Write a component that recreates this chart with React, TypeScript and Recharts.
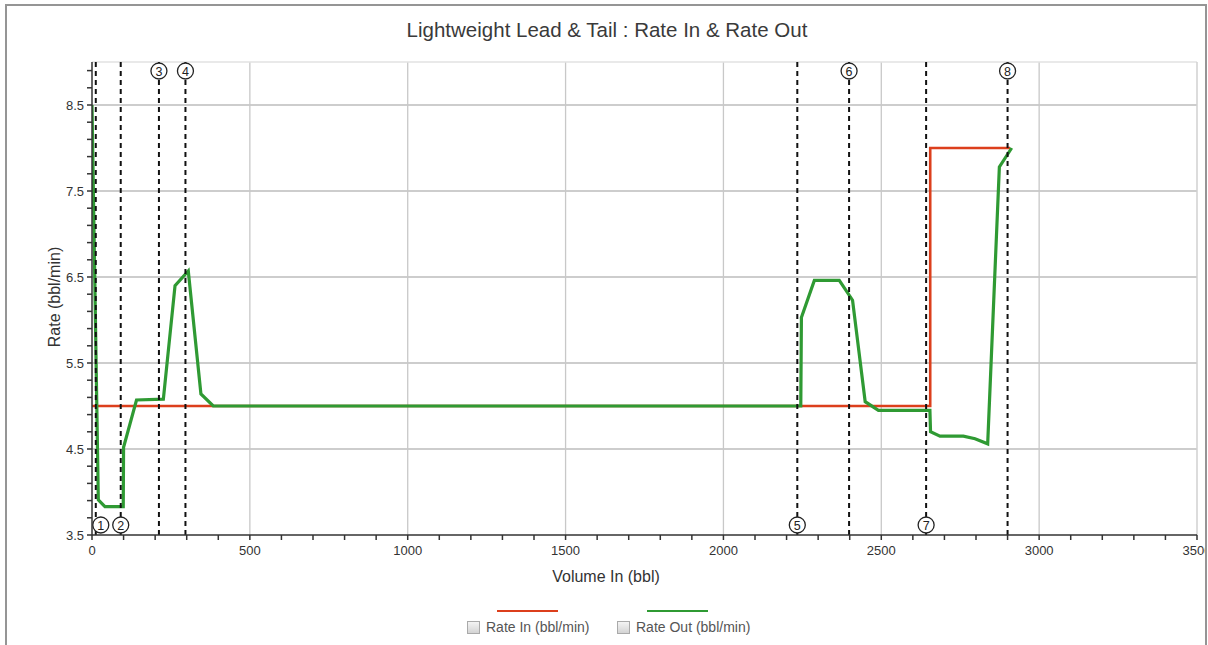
import React from 'react'
import { LineChart, Line, XAxis, YAxis, ReferenceLine } from 'recharts'

// Rate In (red) — step profile
const RATE_IN_VOL = [0, 2655, 2655, 2908]
const RATE_IN_VAL = [5.0, 5.0, 8.0, 8.0]

// Rate Out (green)
const RATE_OUT_VOL = [0, 20, 41, 99, 100, 141, 226, 263, 305, 345, 384, 2245, 2247, 2288, 2367, 2409, 2449, 2491, 2654, 2656, 2686, 2760, 2797, 2837, 2874, 2913]
const RATE_OUT_VAL = [8.5, 3.91, 3.83, 3.83, 4.52, 5.07, 5.08, 6.4, 6.57, 5.14, 5.0, 5.0, 6.03, 6.46, 6.46, 6.23, 5.05, 4.95, 4.95, 4.7, 4.65, 4.65, 4.62, 4.56, 7.78, 8.0]

// numbered event markers
const MARKER_IDS = ['1', '2', '3', '4', '5', '6', '7', '8']
const MARKER_VOL = [12, 91, 212, 296, 2234, 2398, 2642, 2900]
const MARKER_SIDE = ['bottom', 'bottom', 'top', 'top', 'bottom', 'top', 'bottom', 'top']

const X_MAJOR = [0, 500, 1000, 1500, 2000, 2500, 3000, 3500]
const Y_MAJOR = [3.5, 4.5, 5.5, 6.5, 7.5, 8.5]
const X_MINOR_STEP = 100
const Y_MINOR_STEP = 0.2

const RED = '#dc3f1c'
const GREEN = '#2f9a33'
const FONT = '"Liberation Sans", Arial, sans-serif'

const rateIn = RATE_IN_VOL.map((v, i) => ({ vol: v, rate: RATE_IN_VAL[i] }))
const rateOut = RATE_OUT_VOL.map((v, i) => ({ vol: v, rate: RATE_OUT_VAL[i] }))

const xTicks: number[] = []
for (let v = 0; v <= 3500; v += X_MINOR_STEP) xTicks.push(v)
const yTicks: number[] = []
for (let k = 0; k <= 27; k++) yTicks.push(Math.round((3.5 + k * Y_MINOR_STEP) * 10) / 10)

function XTick(p: any) {
  const v = p.payload.value
  if (!X_MAJOR.includes(v)) return <g />
  return (
    <text x={p.x} y={p.y} dy="0.71em" textAnchor="middle" fontSize={13} fill="#333" fontFamily={FONT}>
      {v}
    </text>
  )
}

function YTick(p: any) {
  const v = p.payload.value
  if (!Y_MAJOR.includes(v)) return <g />
  return (
    <text x={p.x} y={p.y} dy={4.5} textAnchor="end" fontSize={13} fill="#333" fontFamily={FONT}>
      {v.toFixed(1)}
    </text>
  )
}

function markerLabel(id: string, side: string) {
  return (props: any) => {
    const vb = props.viewBox
    const cx = vb.x + (id === '1' ? 5 : 0)
    const cy = side === 'top' ? vb.y + 9 : vb.y + vb.height - 10
    return (
      <g>
        <circle cx={cx} cy={cy} r={8} fill="#fff" stroke="#222" strokeWidth={1.3} />
        <text x={cx} y={cy} dy={4.5} textAnchor="middle" fontSize={12.5} fill="#222" fontFamily={FONT}>
          {id}
        </text>
      </g>
    )
  }
}

function LegendItem({ left, color, label }: { left: number; color: string; label: string }) {
  return (
    <>
      <div style={{ position: 'absolute', left: left + 30, top: 610, width: 61, height: 2, background: color }} />
      <div
        style={{
          position: 'absolute', left, top: 621, width: 13, height: 13, boxSizing: 'border-box',
          border: '1px solid #aaa', background: 'linear-gradient(#f4f4f4, #d4d4d4)',
        }}
      />
      <div style={{ position: 'absolute', left: left + 19, top: 619, fontSize: 14, color: '#555', fontFamily: FONT, whiteSpace: 'nowrap' }}>
        {label}
      </div>
    </>
  )
}

export default function App() {
  return (
    <div style={{ position: 'relative', width: 1208, height: 645, overflow: 'hidden', background: '#fff' }}>
      <style>{'body{margin:0}'}</style>
      <div
        style={{
          position: 'absolute', left: 5, top: 4, width: 1202, height: 700, boxSizing: 'border-box',
          border: '2px solid #959595', borderBottom: 'none', overflow: 'hidden',
        }}
      >
        <div style={{ position: 'absolute', left: -7, top: -6, width: 1208, height: 645 }}>
          <div
            style={{
              position: 'absolute', left: 0, top: 18, width: 1214, textAlign: 'center',
              fontSize: 20.5, color: '#3a3a3a', fontFamily: FONT,
            }}
          >
            Lightweight Lead &amp; Tail : Rate In &amp; Rate Out
          </div>

          <LineChart width={1208} height={645} margin={{ top: 62, right: 11, left: 0, bottom: 60 }}>
            <XAxis
              type="number"
              dataKey="vol"
              domain={[0, 3500]}
              ticks={xTicks}
              interval={0}
              tick={XTick}
              tickSize={5}
              tickMargin={6}
              stroke="#333"
              strokeWidth={1.5}
              height={50}
              allowDataOverflow
              label={{
                content: () => (
                  <text x={606} y={582} textAnchor="middle" fontSize={16} fill="#333" fontFamily={FONT}>
                    Volume In  (bbl)
                  </text>
                ),
              }}
            />
            <YAxis
              type="number"
              dataKey="rate"
              domain={[3.5, 9]}
              ticks={yTicks}
              interval={0}
              tick={YTick}
              tickSize={5}
              tickMargin={3}
              stroke="#333"
              strokeWidth={1.5}
              width={92}
              allowDataOverflow
              label={{
                content: () => (
                  <text
                    x={60}
                    y={297}
                    transform="rotate(-90 60 297)"
                    textAnchor="middle"
                    fontSize={16}
                    fill="#333"
                    fontFamily={FONT}
                  >
                    Rate (bbl/min)
                  </text>
                ),
              }}
            />

            {Y_MAJOR.filter((v) => v > 3.5).map((v) => (
              <ReferenceLine key={'gy' + v} y={v} stroke="#bcbcbc" strokeWidth={1.3} />
            ))}
            {X_MAJOR.filter((v) => v > 0 && v < 3500).map((v) => (
              <ReferenceLine key={'gx' + v} x={v} stroke="#c8c8c8" strokeWidth={1.3} />
            ))}
            <ReferenceLine y={9} stroke="#e2e2e2" strokeWidth={1.3} />
            <ReferenceLine x={3500} stroke="#d0d0d0" strokeWidth={1.5} />

            <Line
              data={rateIn}
              dataKey="rate"
              type="linear"
              stroke={RED}
              strokeWidth={2.6}
              dot={false}
              activeDot={false}
              isAnimationActive={false}
            />
            <Line
              data={rateOut}
              dataKey="rate"
              type="linear"
              stroke={GREEN}
              strokeWidth={3.2}
              dot={false}
              activeDot={false}
              isAnimationActive={false}
            />

            {MARKER_IDS.map((id, i) => (
              <ReferenceLine
                key={'m' + id}
                x={MARKER_VOL[i]}
                stroke="#111"
                strokeWidth={2}
                strokeDasharray="5 4"
                label={markerLabel(id, MARKER_SIDE[i])}
              />
            ))}
          </LineChart>

          <LegendItem left={467} color={RED} label="Rate In (bbl/min)" />
          <LegendItem left={617} color={GREEN} label="Rate Out (bbl/min)" />
        </div>
      </div>
    </div>
  )
}
